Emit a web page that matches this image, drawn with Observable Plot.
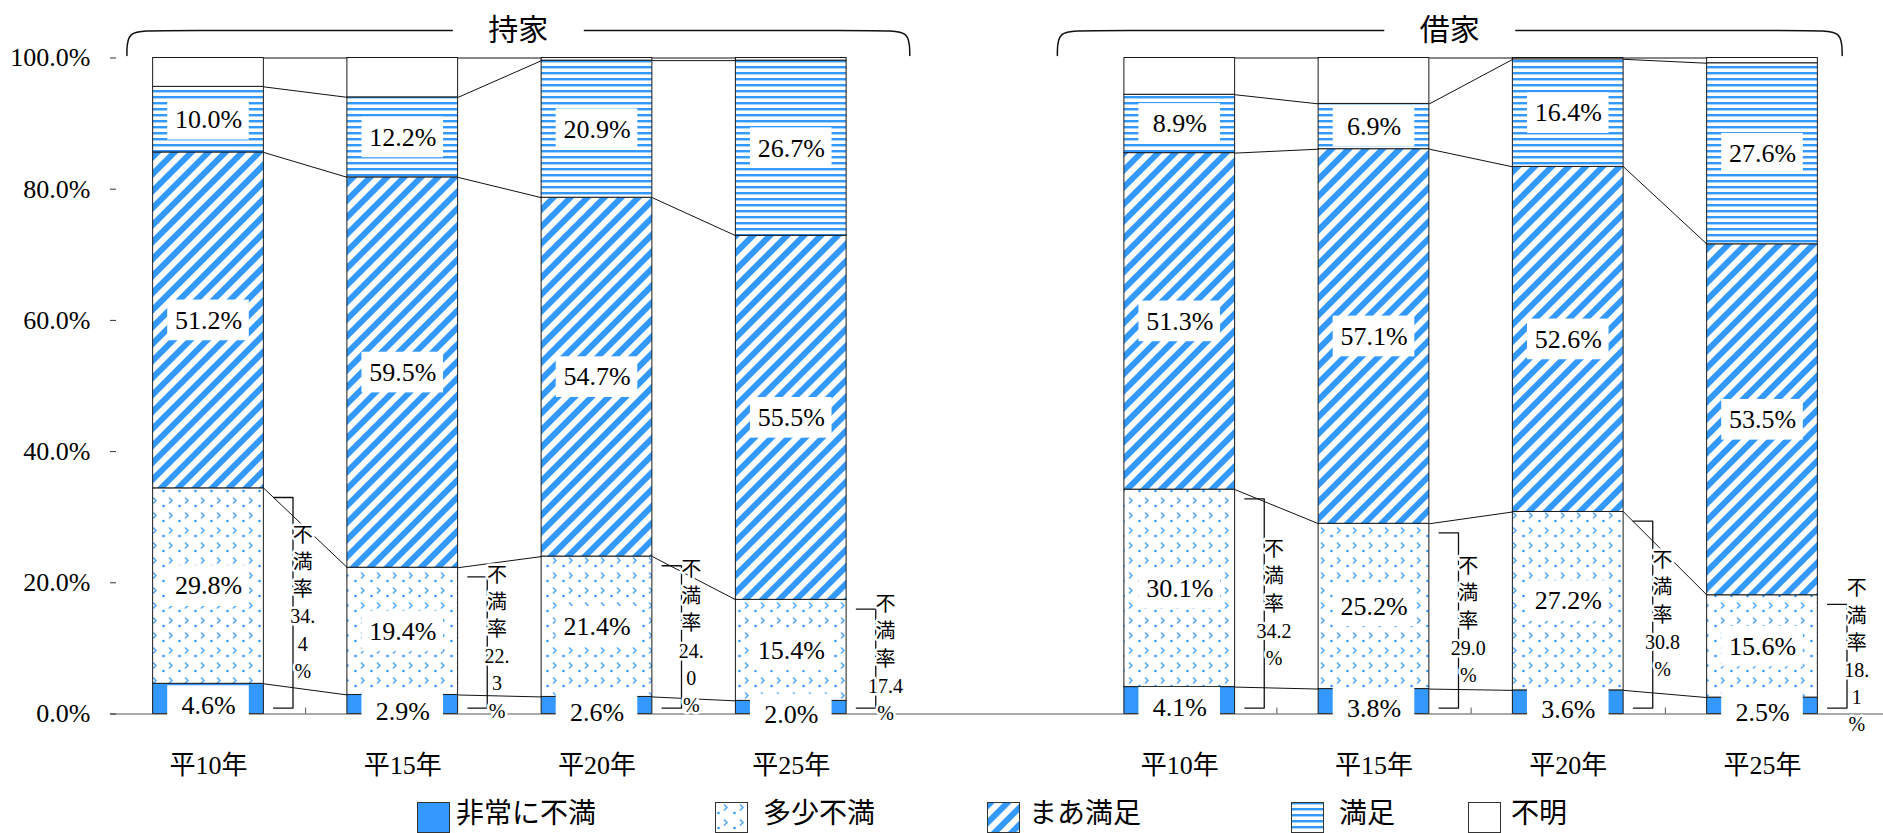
<!DOCTYPE html>
<html>
<head>
<meta charset="utf-8">
<script src="https://cdn.jsdelivr.net/npm/d3@7"></script>
<script src="https://cdn.jsdelivr.net/npm/@observablehq/plot@0.6"></script>
<style>
  html, body { margin: 0; padding: 0; background: #fff; }
  body { width: 1883px; height: 833px; overflow: hidden; position: relative;
         font-family: "Liberation Serif", "Noto Sans CJK JP", serif; }
  #chart { position: absolute; left: 0; top: 0; }
  #legend { position: absolute; left: 0; top: 790px; width: 1883px; height: 43px; }
  .sw { position: absolute; top: 12px; }
  .lt { position: absolute; top: 1px; font-size: 28px; line-height: normal;
        font-family: "Noto Sans CJK JP", sans-serif; color: #000; white-space: nowrap; }
</style>
</head>
<body>
<svg width="0" height="0" style="position:absolute;left:0;top:0">
  <defs>
    <pattern id="pDots" patternUnits="userSpaceOnUse" width="16" height="15">
      <rect width="16" height="15" fill="#ffffff"/>
      <path d="M9,2.5 L12,5.5 L9,8.5" fill="none" stroke="#5aa9f7" stroke-width="1.6"/>
      <circle cx="3.5" cy="11" r="1.3" fill="#3399ff"/>
    </pattern>
    <pattern id="pDiag" patternUnits="userSpaceOnUse" width="12" height="12" patternTransform="rotate(45)">
      <rect width="12" height="12" fill="#ffffff"/>
      <rect width="6" height="12" fill="#3399ff"/>
    </pattern>
    <pattern id="pHoriz" patternUnits="userSpaceOnUse" width="8" height="6">
      <rect width="8" height="6" fill="#ffffff"/>
      <rect y="0" width="8" height="2" fill="#3399ff"/>
      <rect y="2" width="8" height="1" fill="#a6d2ff"/>
    </pattern>
  </defs>
</svg>
<div id="chart"></div>
<div id="legend"></div>
<script>
// ---------- data ----------
const groups = ["持家", "借家"];
const years = ["平10年", "平15年", "平20年", "平25年"];
const categories = ["非常に不満", "多少不満", "まあ満足", "満足", "不明"];

const ownVeryDis   = [4.6, 2.9, 2.6, 2.0];
const ownSomeDis   = [29.8, 19.4, 21.4, 15.4];
const ownFairSat   = [51.2, 59.5, 54.7, 55.5];
const ownSat       = [10.0, 12.2, 20.9, 26.7];
const ownUnknown   = [4.4, 6.0, 0.4, 0.4];

const rentVeryDis  = [4.1, 3.8, 3.6, 2.5];
const rentSomeDis  = [30.1, 25.2, 27.2, 15.6];
const rentFairSat  = [51.3, 57.1, 52.6, 53.5];
const rentSat      = [8.9, 6.9, 16.4, 27.6];
const rentUnknown  = [5.6, 7.0, 0.2, 0.8];

const ownDisRateLabels  = ["不\n満\n率\n34.\n4\n%", "不\n満\n率\n22.\n3\n%", "不\n満\n率\n24.\n0\n%", "不\n満\n率\n17.4\n%"];
const rentDisRateLabels = ["不\n満\n率\n34.2\n%", "不\n満\n率\n29.0\n%", "不\n満\n率\n30.8\n%", "不\n満\n率\n18.\n1\n%"];

const yTicks = [0, 20, 40, 60, 80, 100];
const yTickLabels = ["0.0%", "20.0%", "40.0%", "60.0%", "80.0%", "100.0%"];

// ---------- derived tables ----------
const series = [
  [ownVeryDis, ownSomeDis, ownFairSat, ownSat, ownUnknown],
  [rentVeryDis, rentSomeDis, rentFairSat, rentSat, rentUnknown]
];
const disLabels = [ownDisRateLabels, rentDisRateLabels];
const fills = ["#3399ff", "url(#pDots)", "url(#pDiag)", "url(#pHoriz)", "#ffffff"];
const half = 0.285;

const rows = [];
const bars = [];
const positions = [];
groups.forEach((g, gi) => {
  years.forEach((yr, i) => {
    const pos = gi * 5 + i;
    positions.push(pos);
    let c = 0;
    const cums = [0];
    categories.forEach((cat, ci) => {
      const v = series[gi][ci][i];
      rows.push({pos, gi, i, ci, cat, v, y1: c, y2: c + v});
      c += v;
      cums.push(c);
    });
    bars.push({gi, i, pos, cums, dis: series[gi][0][i] + series[gi][1][i], label: disLabels[gi][i]});
  });
});

const links = [];
groups.forEach((g, gi) => {
  const gb = bars.filter(b => b.gi === gi);
  for (let i = 0; i < gb.length - 1; i++) {
    for (let k = 1; k < gb[i].cums.length; k++) {
      links.push({x1: gb[i].pos + half, y1: gb[i].cums[k], x2: gb[i + 1].pos - half, y2: gb[i + 1].cums[k]});
    }
  }
});

const bracketPts = [];
bars.forEach(b => {
  const xr = b.pos + half;
  bracketPts.push({z: b.pos, x: xr + 0.05, y: b.dis - 1.4});
  bracketPts.push({z: b.pos, x: xr + 0.15, y: b.dis - 1.4});
  bracketPts.push({z: b.pos, x: xr + 0.15, y: 0.9});
  bracketPts.push({z: b.pos, x: xr + 0.05, y: 0.9});
});

const labelRows = rows.filter(d => d.ci < 4).map(d => ({...d, ly: (d.y1 + d.y2) / 2 - (d.ci === 0 ? 1.1 : 0)}));

const betweenTicks = [];
groups.forEach((g, gi) => {
  const gb = bars.filter(b => b.gi === gi);
  for (let i = 0; i < gb.length - 1; i++) betweenTicks.push((gb[i].pos + gb[i + 1].pos) / 2);
});

// group braces
const braceY = 104.2, braceEnd = 100.4;
const braceGap = 0.34;
const bracePts = [];
const titles = [];
groups.forEach((g, gi) => {
  const gb = bars.filter(b => b.gi === gi);
  const first = gb[0].pos, last = gb[gb.length - 1].pos;
  const L = first - (gi === 0 ? 0.42 : 0.63);
  const R = last + (gi === 0 ? 0.61 : 0.41);
  const C = (L + R) / 2;
  titles.push({x: C, text: g});
  const zl = g + "L", zr = g + "R";
  bracePts.push({z: zl, x: L, y: braceEnd}, {z: zl, x: L, y: braceY}, {z: zl, x: L + 0.14, y: braceY}, {z: zl, x: C - braceGap, y: braceY});
  bracePts.push({z: zr, x: C + braceGap, y: braceY}, {z: zr, x: R - 0.14, y: braceY}, {z: zr, x: R, y: braceY}, {z: zr, x: R, y: braceEnd});
});

// ---------- plot ----------
const chart = Plot.plot({
  width: 1883,
  height: 790,
  marginLeft: 110,
  marginRight: 0,
  marginTop: 57.5,
  marginBottom: 76.5,
  x: {domain: [0, 8], range: [208, 1762]},
  y: {domain: [0, 100], range: [713.5, 57.5]},
  style: {fontFamily: '"Liberation Serif", "Noto Sans CJK JP", serif', fontSize: "25px", color: "#000", background: "white", overflow: "visible"},
  marks: [
    ...categories.map((cat, ci) => Plot.rect(rows.filter(d => d.ci === ci), {
      x1: d => d.pos - half, x2: d => d.pos + half, y1: "y1", y2: "y2",
      fill: fills[ci], stroke: "#1a1a1a", strokeWidth: 1
    })),
    Plot.ruleY([0], {stroke: "#555", strokeWidth: 1.2}),
    Plot.ruleX(betweenTicks, {y1: 0, y2: 0.9, stroke: "#555"}),
    Plot.link(links, {x1: "x1", y1: "y1", x2: "x2", y2: "y2", stroke: "#111", strokeWidth: 1}),
    Plot.line(bracketPts, {x: "x", y: "y", z: "z", stroke: "#111", strokeWidth: 1.3}),
    Plot.text(bars, {x: d => d.pos + half + 0.2, y: d => d.dis / 2, text: "label", fontSize: 20, lineHeight: 1.36,
      fill: "#000", stroke: "white", strokeWidth: 5}),
    Plot.rect(labelRows, {x1: d => d.pos - 0.21, x2: d => d.pos + 0.21, y1: d => d.ly - 3.1, y2: d => d.ly + 3.1, fill: "white"}),
    Plot.text(labelRows, {x: "pos", y: "ly", text: d => d.v.toFixed(1) + "%", fontSize: 26, fill: "#000"}),
    Plot.line(bracePts, {x: "x", y: "y", z: "z", curve: "basis", stroke: "#111", strokeWidth: 1.5}),
    Plot.text(titles, {x: "x", y: braceY, text: "text", fontSize: 30, dy: 0, fill: "#000"}),
    Plot.axisY({ticks: yTicks, tickFormat: d => yTickLabels[yTicks.indexOf(d)], tickSize: 0, tickPadding: 20, fontSize: 26, label: null, line: true, stroke: "#333"}),
    Plot.axisY({ticks: yTicks, tickFormat: () => "", tickSize: 6, dx: 6, label: null, stroke: "#333"}),
    Plot.axisX({ticks: positions, tickFormat: d => years[d % 5], tickSize: 0, tickPadding: 42, fontSize: 26, label: null})
  ]
});
document.getElementById("chart").appendChild(chart);

// ---------- legend ----------
const legendLeft = [417, 715, 987, 1291, 1468];
const legendTextLeft = [456, 763, 1029, 1339, 1511];
const legend = document.getElementById("legend");
categories.forEach((cat, ci) => {
  const sw = document.createElementNS("http://www.w3.org/2000/svg", "svg");
  sw.setAttribute("width", 34);
  sw.setAttribute("height", 31);
  sw.setAttribute("class", "sw");
  sw.style.left = legendLeft[ci] + "px";
  const r = document.createElementNS("http://www.w3.org/2000/svg", "rect");
  r.setAttribute("x", 0.5); r.setAttribute("y", 0.5);
  r.setAttribute("width", 32); r.setAttribute("height", 30);
  r.setAttribute("fill", fills[ci]);
  r.setAttribute("stroke", "#333");
  sw.appendChild(r);
  legend.appendChild(sw);
  const t = document.createElement("div");
  t.className = "lt";
  t.style.left = legendTextLeft[ci] + "px";
  t.textContent = cat;
  legend.appendChild(t);
});
</script>
</body>
</html>
